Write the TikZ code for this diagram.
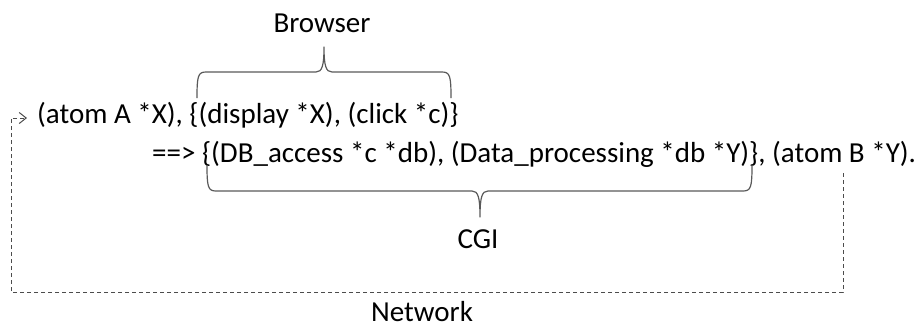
\documentclass[tikz,border=0pt]{standalone}
\usepackage{fontspec}
\setmainfont{Carlito}
\usetikzlibrary{arrows.meta}
\tikzset{
  rule/.style={font=\fontsize{29}{34}\selectfont, inner sep=0pt, anchor=base west},
  label/.style={font=\fontsize{29}{34}\selectfont, inner sep=0pt, anchor=base},
  bracket/.style={draw=black!65, line width=1.2pt, line join=round},
  netlink/.style={draw=black!70, line width=1pt, dash pattern=on 4pt off 3pt},
}
\begin{document}
\begin{tikzpicture}[x=1pt,y=-1pt]
\useasboundingbox (0,0) rectangle (920,327);

% the two lines of the rule
\node[rule] (l1) at (37,123) {(atom A *X), \{(display *X), (click *c)\}};
\node[rule] (l2) at (152,162) {==> \{(DB\_access *c *db), (Data\_processing *db *Y)\}, (atom B *Y).};

% group labels
\node[label] (browser) at (322,32) {Browser};
\node[label] (cgi) at (478,248) {CGI};
\node[label] (network) at (422,321) {Network};

% brace over the browser actions
\draw[bracket] (197,98) .. controls (197,76) and (198,72) .. (206,72)
  -- (316,72) .. controls (322,72) and (324,66) .. (324,47)
  .. controls (324,66) and (326,72) .. (332,72)
  -- (442,72) .. controls (450,72) and (451,76) .. (451,98);

% brace under the CGI actions
\draw[bracket] (207,165) .. controls (207,187) and (208,191) .. (216,191)
  -- (472,191) .. controls (478,191) and (480,197) .. (480,217)
  .. controls (480,197) and (482,191) .. (488,191)
  -- (743,191) .. controls (751,191) and (752,187) .. (752,165);

% network feedback loop
\coordinate (out) at (843,173);
\coordinate (in) at (27,118);
\draw[netlink, -{Straight Barb[length=7pt,width=11pt]}]
  (out) |- (11,292) |- (in);
\end{tikzpicture}
\end{document}
